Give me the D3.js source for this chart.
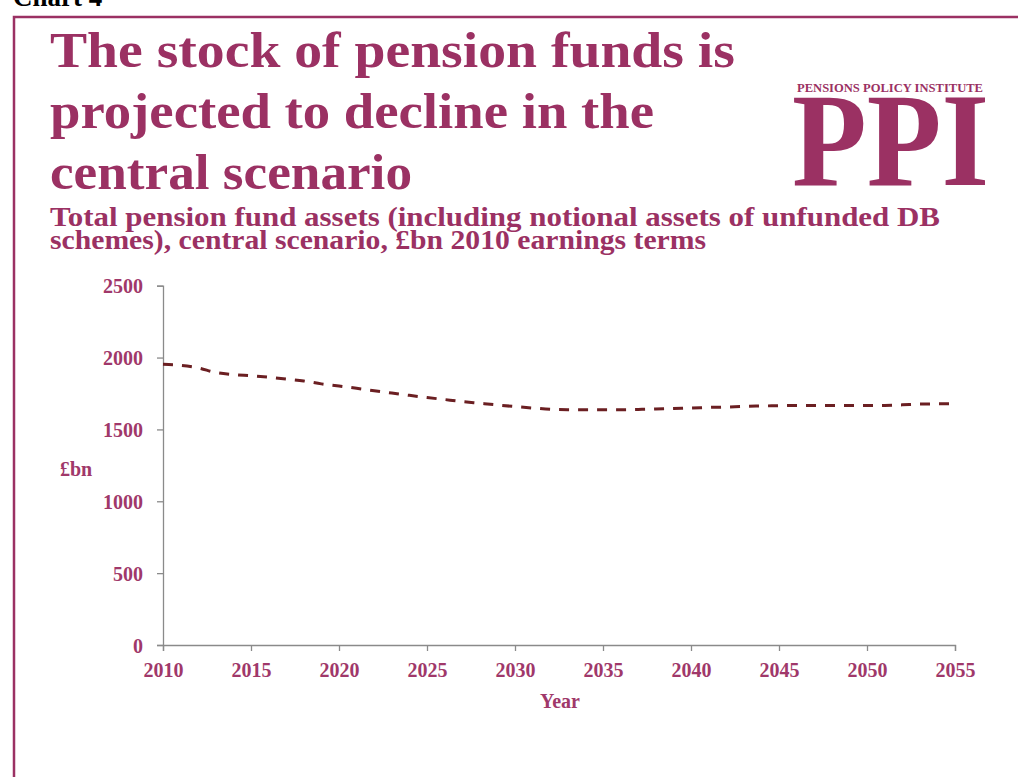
<!DOCTYPE html>
<html>
<head>
<meta charset="utf-8">
<script src="https://cdn.jsdelivr.net/npm/d3@7/dist/d3.min.js"></script>
<style>
  html, body { margin: 0; padding: 0; background: #fff; }
  svg { display: block; }
  text { font-family: "Liberation Serif", "DejaVu Serif", serif; font-weight: bold; }
</style>
</head>
<body>
<div id="chart"></div>
<script>
// Total pension fund assets, central scenario, £bn (2010 earnings terms)
const years = d3.range(2010, 2056);
const assets = [
  1953, 1946, 1928, 1896, 1882, 1873, 1863, 1851, 1837, 1817,
  1802, 1786, 1769, 1753, 1737, 1722, 1708, 1694, 1682, 1670,
  1659, 1649, 1640, 1637, 1637, 1637, 1637, 1639, 1642, 1646,
  1649, 1653, 1656, 1660, 1663, 1665, 1667, 1667, 1667, 1667,
  1667, 1667, 1671, 1676, 1678, 1678
];
const xTicks = [2010, 2015, 2020, 2025, 2030, 2035, 2040, 2045, 2050, 2055];
const yTicks = [0, 500, 1000, 1500, 2000, 2500];

const titleLines = ["The stock of pension funds is", "projected to decline in the", "central scenario"];
const subtitleLines = ["Total pension fund assets (including notional assets of unfunded DB",
                       "schemes), central scenario, £bn 2010 earnings terms"];

const W = 1018, H = 777;
const brand = "#9b3163";
const tickColor = "#a0386a";

const svg = d3.select("#chart").append("svg").attr("width", W).attr("height", H);

// Page heading above the frame (partly cut off at the top)
svg.append("text").attr("x", 13).attr("y", 6)
  .attr("font-size", 27).attr("fill", "#000").text("Chart 4");

// Frame
svg.append("path")
  .attr("d", `M14,${H} L14,17 L${W + 5},17`)
  .attr("fill", "none").attr("stroke", brand).attr("stroke-width", 2.5);

// Title
const titleW = [685, 604, 362];
const titleY = [67, 128, 189];
titleLines.forEach((t, i) => {
  svg.append("text").attr("x", 50).attr("y", titleY[i])
    .attr("font-size", 50).attr("fill", brand)
    .attr("textLength", titleW[i]).attr("lengthAdjust", "spacingAndGlyphs")
    .text(t);
});

// Subtitle
const subW = [890, 656];
const subY = [226, 249];
subtitleLines.forEach((t, i) => {
  svg.append("text").attr("x", 50).attr("y", subY[i])
    .attr("font-size", 27).attr("fill", brand)
    .attr("textLength", subW[i]).attr("lengthAdjust", "spacingAndGlyphs")
    .text(t);
});

// Logo
svg.append("text").attr("x", 797).attr("y", 92)
  .attr("font-size", 13).attr("font-weight", "normal").attr("fill", brand)
  .attr("textLength", 186).attr("lengthAdjust", "spacingAndGlyphs")
  .text("PENSIONS POLICY INSTITUTE");
svg.append("text").attr("x", 792).attr("y", 185)
  .attr("font-size", 134).attr("font-weight", "normal").attr("fill", brand)
  .attr("textLength", 197).attr("lengthAdjust", "spacingAndGlyphs")
  .text("PPI");

// Plot area
const plot = { left: 163, right: 955, top: 285.7, bottom: 645 };
const x = d3.scaleLinear().domain([2010, 2055]).range([plot.left, plot.right]);
const y = d3.scaleLinear().domain([0, 2500]).range([plot.bottom, plot.top]);

const xAxis = svg.append("g").attr("transform", `translate(0,${plot.bottom})`)
  .call(d3.axisBottom(x).tickValues(xTicks).tickFormat(d3.format("d")).tickSize(6).tickPadding(12));
const yAxis = svg.append("g").attr("transform", `translate(${plot.left},0)`)
  .call(d3.axisLeft(y).tickValues(yTicks).tickFormat(d3.format("d")).tickSize(6).tickPadding(14));

[xAxis, yAxis].forEach(g => {
  g.select(".domain").attr("stroke", "#8a8a8a").attr("stroke-width", 1.3);
  g.selectAll(".tick line").attr("stroke", "#8a8a8a").attr("stroke-width", 1.3);
  g.selectAll(".tick text").attr("fill", tickColor).attr("font-size", 20)
    .attr("font-family", "'Liberation Serif', serif").attr("font-weight", "bold");
});
yAxis.selectAll(".tick text").attr("dy", "0.35em");

// Axis titles
svg.append("text").attr("x", 560).attr("y", 708).attr("text-anchor", "middle")
  .attr("font-size", 20).attr("fill", tickColor).text("Year");
svg.append("text").attr("x", 76).attr("y", 476).attr("text-anchor", "middle")
  .attr("font-size", 20).attr("fill", tickColor).text("£bn");

// Series line
const line = d3.line()
  .x((d, i) => x(years[i]))
  .y(d => y(d))
  .curve(d3.curveMonotoneX);

svg.append("path").datum(assets)
  .attr("d", line)
  .attr("fill", "none")
  .attr("stroke", "#6b1f22")
  .attr("stroke-width", 3)
  .attr("stroke-dasharray", "10,9");
</script>
</body>
</html>
